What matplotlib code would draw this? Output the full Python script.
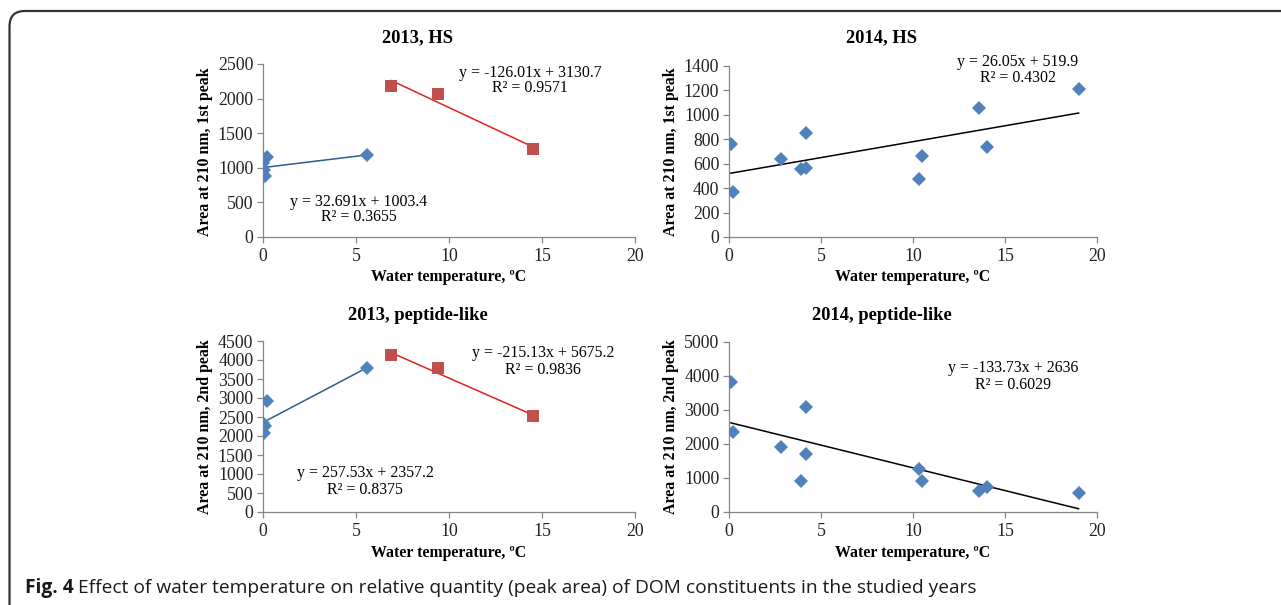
import matplotlib
matplotlib.use("Agg")
import matplotlib.pyplot as plt
import numpy as np
from matplotlib.patches import FancyBboxPatch

# figure size in pixels
W, H = 1281, 605

# --- data ---
# 2013: cold period (blue diamonds) and warm period (red squares)
t13_cold = [0.0, 0.05, 0.1, 0.2, 5.6]
t13_warm = [6.9, 9.4, 14.5]
hs13_cold = [1074, 968, 881, 1160, 1187]
hs13_warm = [2186, 2070, 1269]
pep13_cold = [2340, 2091, 2260, 2909, 3797]
pep13_warm = [4140, 3779, 2531]

# 2014: one series
t14 = [0.1, 0.2, 2.8, 3.9, 4.2, 4.2, 10.3, 10.5, 13.6, 14.0, 19.0]
hs14 = [765, 365, 640, 558, 564, 853, 474, 662, 1054, 738, 1209]
pep14 = [3833, 2363, 1902, 902, 3078, 1696, 1275, 922, 627, 725, 569]

# trend lines (slope, intercept) as printed on the chart
fit_hs13_cold = (32.691, 1003.4)
fit_hs13_warm = (-126.01, 3130.7)
fit_pep13_cold = (257.53, 2357.2)
fit_pep13_warm = (-215.13, 5675.2)
fit_hs14 = (26.05, 519.9)
fit_pep14 = (-133.73, 2636)

eq_hs13_cold = ["y = 32.691x + 1003.4", "R² = 0.3655"]
eq_hs13_warm = ["y = -126.01x + 3130.7", "R² = 0.9571"]
eq_pep13_cold = ["y = 257.53x + 2357.2", "R² = 0.8375"]
eq_pep13_warm = ["y = -215.13x + 5675.2", "R² = 0.9836"]
eq_hs14 = ["y = 26.05x + 519.9", "R² = 0.4302"]
eq_pep14 = ["y = -133.73x + 2636", "R² = 0.6029"]

titles = ["2013, HS", "2014, HS", "2013, peptide-like", "2014, peptide-like"]
ylabels = ["Area at 210 nm, 1st peak", "Area at 210 nm, 1st peak",
           "Area at 210 nm, 2nd peak", "Area at 210 nm, 2nd peak"]
xlabel = "Water temperature, ºC"
caption_bold = "Fig. 4"
caption = "Effect of water temperature on relative quantity (peak area) of DOM constituents in the studied years"

BLUE = "#4F81BD"
RED = "#C0504D"
SERIF = "Liberation Serif"
TXT = 11.4  # equations and axis titles


def fx(x):
    return x / W


def fy(y):
    return 1 - y / H


def make_ax(fig, x0, x1, y0, y1):
    return fig.add_axes([fx(x0), fy(y1), (x1 - x0) / W, (y1 - y0) / H])


def style(ax, ymax, ystep):
    ax.set_xlim(0, 20)
    ax.set_ylim(0, ymax)
    ax.set_xticks(range(0, 21, 5))
    ax.set_yticks(np.arange(0, ymax + 1, ystep))
    for s in ["top", "right"]:
        ax.spines[s].set_visible(False)
    for s in ["left", "bottom"]:
        ax.spines[s].set_color("#868686")
        ax.spines[s].set_linewidth(0.9)
    ax.tick_params(length=4, width=0.9, color="#868686", labelsize=12.8, pad=3,
                   labelcolor="#222222")
    ax.tick_params(axis="x", pad=4)
    for lab in ax.get_xticklabels() + ax.get_yticklabels():
        lab.set_fontfamily(SERIF)


def trend(ax, xs, fit, color):
    xs = np.array([min(xs), max(xs)])
    ax.plot(xs, fit[0] * xs + fit[1], color=color, lw=1.1, zorder=2)


def eq(fig, lines, x, y1, y2):
    fig.text(fx(x), fy(y1), lines[0], ha="center", va="center", fontsize=TXT, fontfamily=SERIF)
    fig.text(fx(x), fy(y2), lines[1], ha="center", va="center", fontsize=TXT, fontfamily=SERIF)


fig = plt.figure(figsize=(W / 100, H / 100), dpi=100)

# rounded frame around the figure
frame = FancyBboxPatch((fx(9.5), fy(640)), (1320 - 9.5) / W, (640 - 11) / H,
                       boxstyle="round,pad=0,rounding_size=0.012",
                       transform=fig.transFigure, fill=False,
                       edgecolor="#333333", lw=1.6, mutation_aspect=W / H)
fig.patches.append(frame)

ax1 = make_ax(fig, 263, 635, 64, 237)
ax2 = make_ax(fig, 729, 1097, 66, 237)
ax3 = make_ax(fig, 263, 635, 341, 512)
ax4 = make_ax(fig, 729, 1097, 342, 512)

style(ax1, 2500, 500)
style(ax2, 1400, 200)
style(ax3, 4500, 500)
style(ax4, 5000, 1000)

# 2013 HS
trend(ax1, t13_cold, fit_hs13_cold, "#2E5B8F")
trend(ax1, t13_warm, fit_hs13_warm, "#E3201B")
ax1.plot(t13_cold, hs13_cold, "D", color=BLUE, ms=7.5, mew=0, zorder=3)
ax1.plot(t13_warm, hs13_warm, "s", color=RED, ms=8, mew=0, zorder=3)

# 2014 HS
trend(ax2, t14, fit_hs14, "black")
ax2.plot(t14, hs14, "D", color=BLUE, ms=7.5, mew=0, zorder=3)

# 2013 peptide-like
trend(ax3, t13_cold, fit_pep13_cold, "#2E5B8F")
trend(ax3, t13_warm, fit_pep13_warm, "#E3201B")
ax3.plot(t13_cold, pep13_cold, "D", color=BLUE, ms=7.5, mew=0, zorder=3)
ax3.plot(t13_warm, pep13_warm, "s", color=RED, ms=8, mew=0, zorder=3)

# 2014 peptide-like
trend(ax4, t14, fit_pep14, "black")
ax4.plot(t14, pep14, "D", color=BLUE, ms=7.5, mew=0, zorder=3)

# titles and axis labels (centred over the whole chart area, as in Excel)
for (cx, cy), title in zip([(418, 38), (882, 38), (418, 315), (882, 315)], titles):
    fig.text(fx(cx), fy(cy), title, ha="center", va="center", fontsize=13.3,
             fontweight="bold", fontfamily=SERIF)
for (lx, ly), lab in zip([(205, 152), (671, 152), (205, 427), (671, 427)], ylabels):
    fig.text(fx(lx), fy(ly), lab, ha="center", va="center", rotation=90,
             fontsize=TXT, fontweight="bold", fontfamily=SERIF)
for (cx, cy) in [(449, 277), (913, 277), (449, 553), (913, 553)]:
    fig.text(fx(cx), fy(cy), xlabel, ha="center", va="center", fontsize=TXT,
             fontweight="bold", fontfamily=SERIF)

eq(fig, eq_hs13_warm, 530, 73, 88)
eq(fig, eq_hs13_cold, 359, 202, 217)
eq(fig, eq_hs14, 1018, 62, 78)
eq(fig, eq_pep13_warm, 543, 353, 370)
eq(fig, eq_pep13_cold, 365, 473, 490)
eq(fig, eq_pep14, 1013, 368, 385)

# caption
cap_font = ["Open Sans", "DejaVu Sans"]
t1 = fig.text(fx(25), fy(588), caption_bold, ha="left", va="center", fontsize=13.8,
              fontweight="bold", fontstretch="normal", family=cap_font, color="#1a1a1a")
plt.annotate(caption, xy=(1, 0.5), xycoords=t1, xytext=(3, 0), textcoords="offset points",
             ha="left", va="center", fontsize=13.8, fontstretch="normal", family=cap_font,
             color="#1a1a1a", annotation_clip=False)

fig.savefig("out.png", dpi=100)
